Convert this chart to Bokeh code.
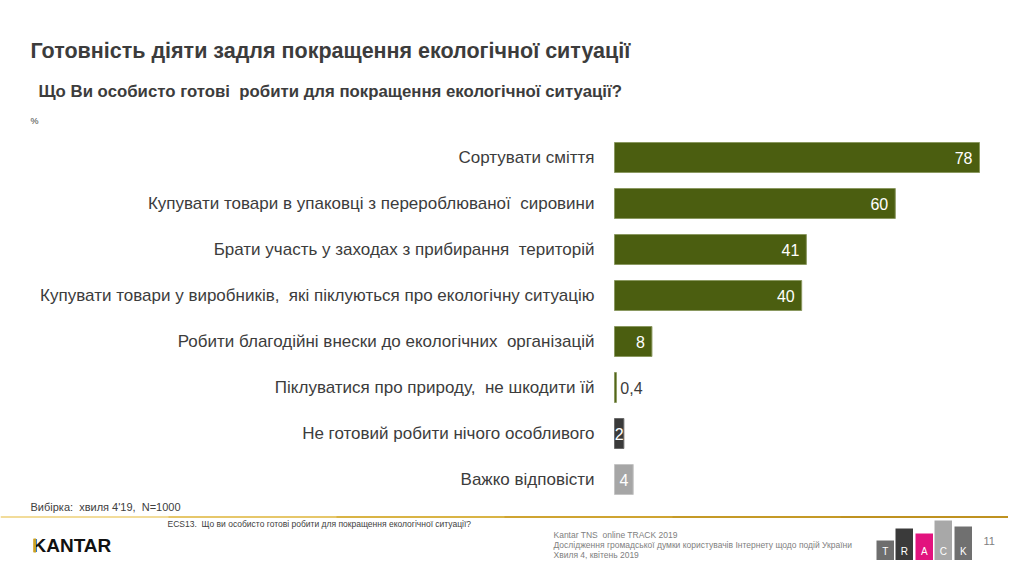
from bokeh.plotting import figure
from bokeh.models import Range1d, ColumnDataSource
from bokeh.core.properties import value
from bokeh.embed import file_html
from bokeh.resources import INLINE

NB = "\u00a0"  # keeps the double spaces of the original slide

# ---- data ----
categories = [
    "Сортувати сміття",
    "Купувати товари в упаковці з перероблюваної" + NB + " сировини",
    "Брати участь у заходах з прибирання" + NB + " територій",
    "Купувати товари у виробників," + NB + " які піклуються про екологічну ситуацію",
    "Робити благодійні внески до екологічних" + NB + " організацій",
    "Піклуватися про природу," + NB + " не шкодити їй",
    "Не готовий робити нічого особливого",
    "Важко відповісти",
]
values = [78, 60, 41, 40, 8, 0.4, 2, 4]
value_labels = ["78", "60", "41", "40", "8", "0,4", "2", "4"]
bar_colors = ["#4B5E10"] * 6 + ["#3A3A3A", "#A6A6A6"]
border_colors = ["#8A9860"] * 6 + ["#6A6A6A", "#C4C4C4"]

title = "Готовність діяти задля покращення екологічної ситуації"
subtitle = "Що Ви особисто готові" + NB + " робити для покращення екологічної ситуації?"
unit = "%"
sample_note = "Вибірка:" + NB + " хвиля 4'19," + NB + " N=1000"
question_note = "ECS13." + NB + " Що ви особисто готові робити для покращення екологічної ситуації?"
footer_lines = [
    "Kantar TNS" + NB + " online TRACK 2019",
    "Дослідження громадської думки користувачів Інтернету щодо подій України",
    "Хвиля 4, квітень 2019",
]
page_number = "11"
track_letters = ["T", "R", "A", "C", "K"]
track_colors = ["#6E6E6E", "#3A3A3A", "#E2137E", "#A8A8A8", "#707070"]

# ---- layout (reference pixel -> data) ----
W, H = 1008, 560
PX_PER_UNIT = 365 / 78.0
X0_REF = 614.0          # x of value 0 in page pixels
ROW0_REF = 157.0        # y of first row centre in page pixels
ROW_STEP = 46.0


def X(px):
    return (px - X0_REF) / PX_PER_UNIT


def Y(py):
    return (py - ROW0_REF) / ROW_STEP


FONT = value("Liberation Sans")

p = figure(width=W, height=H, output_backend="svg", toolbar_location=None,
           x_range=Range1d(X(0), X(W)), y_range=Range1d(Y(H), Y(0)),
           min_border=0, min_border_left=0, min_border_right=0,
           min_border_top=0, min_border_bottom=0)
p.axis.visible = False
p.grid.visible = False
p.outline_line_color = None
p.background_fill_color = "white"
p.border_fill_color = "white"

rows = list(range(len(categories)))

# bars
src = ColumnDataSource(dict(y=rows, right=values, color=bar_colors, lc=border_colors))
p.hbar(y="y", left=0, right="right", height=30 / ROW_STEP, fill_color="color",
       line_color="lc", line_width=1, source=src)

# category labels
p.text(x=[X(594)] * len(rows), y=rows, text=categories, text_font=FONT,
       text_font_size="17px", text_color="#3C3C3C", text_align="right",
       text_baseline="middle")

# value labels
for i, (v, lab) in enumerate(zip(values, value_labels)):
    bar_px = v * PX_PER_UNIT
    if bar_px >= 30:
        p.text(x=[v], y=[i], text=[lab], text_font=FONT, text_font_size="16px",
               text_color="white", text_align="right", text_baseline="middle",
               x_offset=-7)
    elif v >= 1:
        p.text(x=[v / 2.0], y=[i], text=[lab], text_font=FONT, text_font_size="16px",
               text_color="white", text_align="center", text_baseline="middle")
    else:
        p.text(x=[v], y=[i], text=[lab], text_font=FONT, text_font_size="16px",
               text_color="#3C3C3C", text_align="left", text_baseline="middle",
               x_offset=4)

# titles
p.text(x=[X(30)], y=[Y(50)], text=[title], text_font=FONT, text_font_size="21.5px",
       text_font_style="bold", text_color="#3C3C3C", text_baseline="middle")
p.text(x=[X(38)], y=[Y(91)], text=[subtitle], text_font=FONT, text_font_size="16.8px",
       text_font_style="bold", text_color="#3C3C3C", text_baseline="middle")
p.text(x=[X(30)], y=[Y(120)], text=[unit], text_font=FONT, text_font_size="9px",
       text_color="#3C3C3C", text_baseline="middle")

# footer
p.text(x=[X(30)], y=[Y(506)], text=[sample_note], text_font=FONT, text_font_size="11px",
       text_color="#404040", text_baseline="middle")
gold = ["#F2DC9A", "#E6C76A", "#D9B445", "#CFA431", "#C59A26", "#BF9220"]
seg = W / len(gold)
for k, c in enumerate(gold):
    p.quad(left=[X(k * seg)], right=[X((k + 1) * seg + 1)],
           top=[Y(515.5)], bottom=[Y(517.5)], fill_color=c, line_color=None)
p.text(x=[X(167)], y=[Y(523)], text=[question_note], text_font=FONT,
       text_font_size="8.5px", text_color="#404040", text_baseline="middle")

# KANTAR logo
p.text(x=[X(32)], y=[Y(545)], text=["KANTAR"], text_font=FONT, text_font_size="19px",
       text_font_style="bold", text_color="#111111", text_baseline="middle")
p.quad(left=[X(33)], right=[X(35.5)], top=[Y(538)], bottom=[Y(552)],
       fill_color="#C9A227", line_color=None)

for j, line in enumerate(footer_lines):
    p.text(x=[X(553)], y=[Y(534 + 10 * j)], text=[line], text_font=FONT,
           text_font_size="8.5px", text_color="#808080", text_baseline="middle")

# TRACK logo (lifted a little so it fits inside the canvas)
lefts = [876, 895, 915, 934, 954]
tops = [540, 528, 533, 520, 526]
for L, T, c, letter in zip(lefts, tops, track_colors, track_letters):
    p.quad(left=[X(L)], right=[X(L + 17.5)], top=[Y(T)], bottom=[Y(560)],
           fill_color=c, line_color=None)
    p.text(x=[X(L + 8.75)], y=[Y(551)], text=[letter], text_font=FONT,
           text_font_size="10px", text_color="white", text_align="center",
           text_baseline="middle")
p.text(x=[X(983)], y=[Y(540)], text=[page_number], text_font=FONT,
       text_font_size="11px", text_color="#808080", text_baseline="middle")

open("out.html", "w").write(file_html(p, INLINE))
